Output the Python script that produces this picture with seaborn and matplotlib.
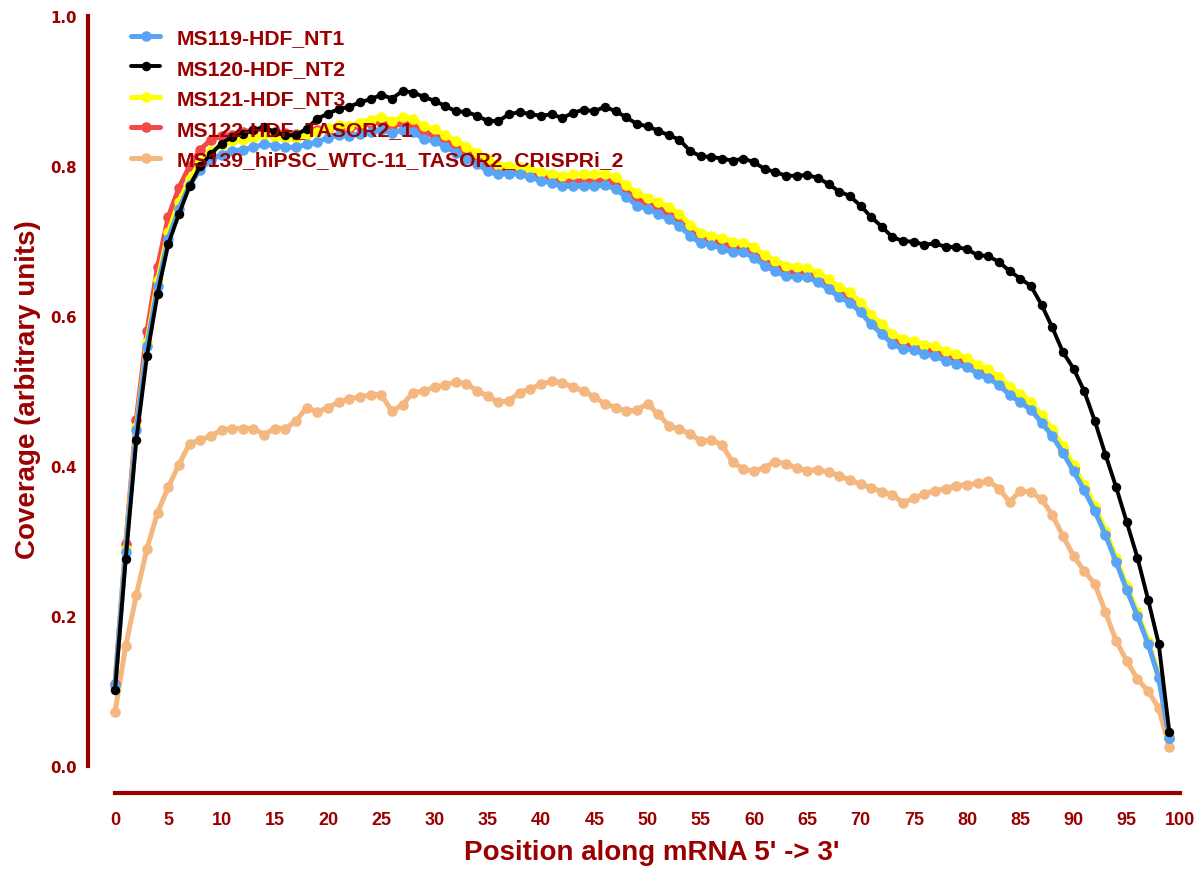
import numpy as np
import pandas as pd
import matplotlib
matplotlib.use("Agg")
import matplotlib.pyplot as plt
import seaborn as sns

# Coverage along mRNA, 100 bins
positions = list(range(100))

ms119_nt1 = [
    0.108, 0.285, 0.448, 0.560, 0.640, 0.703, 0.743, 0.775, 0.795, 0.808,
    0.815, 0.820, 0.822, 0.825, 0.829, 0.827, 0.825, 0.825, 0.829, 0.832,
    0.838, 0.841, 0.840, 0.843, 0.846, 0.848, 0.844, 0.848, 0.845, 0.836,
    0.833, 0.826, 0.818, 0.810, 0.803, 0.793, 0.789, 0.790, 0.789, 0.785,
    0.780, 0.778, 0.773, 0.773, 0.773, 0.773, 0.775, 0.769, 0.759, 0.747,
    0.743, 0.736, 0.729, 0.720, 0.707, 0.697, 0.695, 0.690, 0.685, 0.685,
    0.678, 0.667, 0.660, 0.653, 0.652, 0.652, 0.645, 0.636, 0.625, 0.618,
    0.605, 0.589, 0.576, 0.563, 0.556, 0.555, 0.549, 0.547, 0.540, 0.536,
    0.532, 0.523, 0.517, 0.508, 0.495, 0.485, 0.475, 0.458, 0.440, 0.418,
    0.393, 0.368, 0.340, 0.308, 0.272, 0.235, 0.200, 0.163, 0.118, 0.038,
]

ms120_nt2 = [
    0.101, 0.276, 0.435, 0.547, 0.630, 0.696, 0.736, 0.773, 0.800, 0.816,
    0.830, 0.839, 0.843, 0.848, 0.852, 0.845, 0.841, 0.841, 0.850, 0.863,
    0.870, 0.876, 0.879, 0.885, 0.889, 0.895, 0.890, 0.900, 0.898, 0.892,
    0.887, 0.880, 0.873, 0.872, 0.867, 0.860, 0.860, 0.869, 0.872, 0.869,
    0.867, 0.869, 0.864, 0.871, 0.875, 0.873, 0.879, 0.873, 0.865, 0.856,
    0.853, 0.847, 0.841, 0.835, 0.820, 0.813, 0.812, 0.810, 0.807, 0.810,
    0.805, 0.796, 0.792, 0.787, 0.787, 0.788, 0.784, 0.776, 0.766, 0.760,
    0.747, 0.732, 0.719, 0.705, 0.700, 0.699, 0.695, 0.697, 0.692, 0.692,
    0.689, 0.681, 0.680, 0.672, 0.660, 0.650, 0.640, 0.615, 0.585, 0.552,
    0.530, 0.500, 0.460, 0.415, 0.372, 0.325, 0.278, 0.222, 0.163, 0.045,
]

ms121_nt3 = [
    0.105, 0.290, 0.452, 0.566, 0.648, 0.712, 0.752, 0.783, 0.805, 0.820,
    0.828, 0.833, 0.835, 0.838, 0.841, 0.839, 0.837, 0.837, 0.842, 0.846,
    0.851, 0.855, 0.854, 0.858, 0.862, 0.866, 0.860, 0.865, 0.863, 0.853,
    0.849, 0.841, 0.834, 0.826, 0.818, 0.809, 0.802, 0.800, 0.799, 0.796,
    0.792, 0.790, 0.787, 0.789, 0.789, 0.789, 0.790, 0.785, 0.775, 0.764,
    0.757, 0.752, 0.745, 0.736, 0.722, 0.711, 0.707, 0.704, 0.699, 0.698,
    0.692, 0.681, 0.674, 0.667, 0.665, 0.664, 0.658, 0.649, 0.639, 0.632,
    0.618, 0.602, 0.589, 0.576, 0.569, 0.567, 0.562, 0.560, 0.553, 0.549,
    0.544, 0.535, 0.529, 0.519, 0.506, 0.496, 0.485, 0.468, 0.449, 0.427,
    0.401, 0.375, 0.347, 0.314, 0.278, 0.240, 0.205, 0.167, 0.121, 0.040,
]

ms122_tasor2_1 = [
    0.110, 0.296, 0.462, 0.580, 0.666, 0.732, 0.771, 0.800, 0.822, 0.835,
    0.840, 0.842, 0.845, 0.848, 0.849, 0.846, 0.844, 0.843, 0.846, 0.848,
    0.850, 0.853, 0.850, 0.853, 0.857, 0.859, 0.853, 0.857, 0.855, 0.845,
    0.840, 0.833, 0.826, 0.818, 0.810, 0.800, 0.795, 0.795, 0.794, 0.790,
    0.786, 0.784, 0.780, 0.780, 0.780, 0.780, 0.782, 0.776, 0.766, 0.755,
    0.750, 0.743, 0.736, 0.727, 0.714, 0.703, 0.701, 0.697, 0.692, 0.691,
    0.684, 0.673, 0.666, 0.659, 0.658, 0.657, 0.651, 0.642, 0.631, 0.624,
    0.611, 0.595, 0.582, 0.569, 0.562, 0.560, 0.555, 0.553, 0.546, 0.542,
    0.537, 0.528, 0.522, 0.513, 0.500, 0.490, 0.480, 0.462, 0.444, 0.422,
    0.397, 0.371, 0.343, 0.311, 0.275, 0.237, 0.202, 0.165, 0.119, 0.038,
]

ms139_crispri_2 = [
    0.072, 0.160, 0.228, 0.290, 0.338, 0.372, 0.402, 0.430, 0.435, 0.440,
    0.448, 0.450, 0.450, 0.450, 0.442, 0.450, 0.450, 0.460, 0.478, 0.472,
    0.478, 0.485, 0.490, 0.492, 0.495, 0.495, 0.473, 0.482, 0.498, 0.500,
    0.505, 0.508, 0.512, 0.510, 0.500, 0.493, 0.485, 0.487, 0.498, 0.503,
    0.509, 0.513, 0.511, 0.505, 0.500, 0.492, 0.483, 0.478, 0.473, 0.475,
    0.483, 0.469, 0.454, 0.449, 0.443, 0.433, 0.435, 0.428, 0.405, 0.396,
    0.393, 0.398, 0.406, 0.403, 0.397, 0.394, 0.395, 0.392, 0.387, 0.381,
    0.376, 0.371, 0.366, 0.361, 0.351, 0.357, 0.363, 0.367, 0.370, 0.374,
    0.375, 0.377, 0.380, 0.370, 0.352, 0.367, 0.365, 0.356, 0.335, 0.307,
    0.280, 0.260, 0.243, 0.205, 0.167, 0.140, 0.116, 0.100, 0.077, 0.025,
]

sample_names = [
    "MS119-HDF_NT1",
    "MS120-HDF_NT2",
    "MS121-HDF_NT3",
    "MS122-HDF_TASOR2_1",
    "MS139_hiPSC_WTC-11_TASOR2_CRISPRi_2",
]
sample_values = [ms119_nt1, ms120_nt2, ms121_nt3, ms122_tasor2_1, ms139_crispri_2]

x_ticks = list(range(0, 101, 5))
y_ticks = [0.0, 0.2, 0.4, 0.6, 0.8, 1.0]


def main():
    dark_red = "#9B0000"
    colors = ["#58A4F6", "#000000", "#FFFF00", "#F54848", "#F3B77F"]
    zorders = [5, 6, 4, 3, 2]
    line_w = [3.6, 2.8, 3.6, 3.6, 3.6]
    mark_s = [7.6, 6.8, 7.6, 7.6, 7.6]

    sns.set_style("white")
    plt.rcParams["font.family"] = ["Liberation Sans", "DejaVu Sans"]

    fig = plt.figure(figsize=(12, 8.7), dpi=100)
    ax = fig.add_axes([88 / 1200, 103 / 870, (1180 - 88) / 1200, 750 / 870])

    for name, vals, c, z, lw, ms in zip(sample_names, sample_values, colors,
                                         zorders, line_w, mark_s):
        df = pd.DataFrame({"position": positions, "coverage": vals})
        sns.lineplot(data=df, x="position", y="coverage", ax=ax, color=c,
                     linewidth=lw, marker="o", markersize=ms,
                     markeredgewidth=0, label=name, zorder=z, clip_on=False)

    ax.set_xlim(-2.54, 100)
    ax.set_ylim(0, 1)

    for side in ["top", "right"]:
        ax.spines[side].set_visible(False)
    for side in ["left", "bottom"]:
        ax.spines[side].set_color(dark_red)
        ax.spines[side].set_linewidth(3)
    ax.spines["left"].set_bounds(0, 1)
    ax.spines["bottom"].set_bounds(0, 100)
    ax.spines["bottom"].set_position(("outward", 19.5))

    ax.set_xticks(x_ticks)
    ax.set_xticklabels([str(t) for t in x_ticks])
    ax.set_yticks(y_ticks)
    ax.set_yticklabels([f"{t:.1f}" for t in y_ticks])
    ax.tick_params(axis="both", direction="out", length=6, width=2.6,
                   color=dark_red, labelcolor=dark_red)
    ax.tick_params(axis="x", pad=7)
    ax.tick_params(axis="y", pad=2)

    for lab in ax.get_xticklabels():
        lab.set_fontweight("bold")
        lab.set_fontsize(13)
    for lab in ax.get_yticklabels():
        lab.set_family(["DejaVu Sans"])
        lab.set_fontweight("bold")
        lab.set_fontsize(10.8)

    ax.set_xlabel("Position along mRNA 5' -> 3'", fontweight="bold",
                  fontsize=20, color=dark_red)
    ax.set_ylabel("Coverage (arbitrary units)", fontweight="bold",
                  fontsize=20, color=dark_red)
    ax.xaxis.set_label_coords((652 - 88) / 1092, (767 - 840) / 750)
    ax.yaxis.set_label_coords((41 - 88) / 1092, 0.503)

    leg = ax.legend(loc="upper left", bbox_to_anchor=(131 / 1200, 1 - 29 / 870),
                    bbox_transform=fig.transFigure, frameon=False,
                    borderpad=0, borderaxespad=0, handlelength=1.38,
                    handletextpad=0.76, labelspacing=0.55,
                    prop={"family": ["Liberation Sans", "DejaVu Sans"],
                          "weight": "bold", "size": 15.2},
                    labelcolor=dark_red)
    leg.set_zorder(10)

    fig.savefig("out.png", dpi=100)
    plt.close(fig)


if __name__ == "__main__":
    main()
